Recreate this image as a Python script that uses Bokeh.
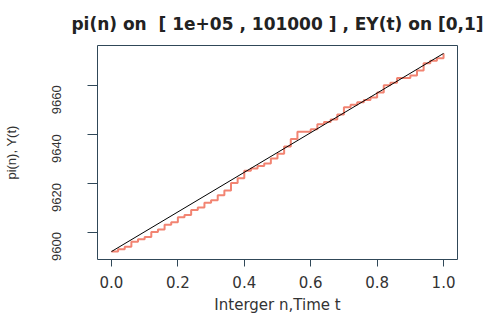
import math
from bokeh.plotting import figure
from bokeh.models import FixedTicker, Range1d
from bokeh.embed import file_html
from bokeh.resources import INLINE

# data
t_vals = [0.00, 0.02, 0.04, 0.06, 0.08, 0.10, 0.12, 0.14, 0.16, 0.18,
          0.20, 0.22, 0.24, 0.26, 0.28, 0.30, 0.32, 0.34, 0.36, 0.38,
          0.40, 0.42, 0.44, 0.46, 0.48, 0.50, 0.52, 0.54, 0.56, 0.58,
          0.60, 0.62, 0.64, 0.66, 0.68, 0.70, 0.72, 0.74, 0.76, 0.78,
          0.80, 0.82, 0.84, 0.86, 0.88, 0.90, 0.92, 0.94, 0.96, 0.98, 1.00]
pi_vals = [9592, 9593, 9594, 9596, 9597, 9598, 9600, 9601, 9603, 9604,
           9606, 9607, 9609, 9610, 9612, 9613, 9615, 9617, 9620, 9622,
           9625, 9626, 9627, 9628, 9630, 9632, 9635, 9638, 9641, 9641,
           9642, 9644, 9645, 9646, 9648, 9651, 9652, 9653, 9654, 9655,
           9657, 9660, 9661, 9663, 9663, 9664, 9666, 9669, 9670, 9671, 9673]
ey_t = [0.0, 1.0]
ey_vals = [9592, 9673]
x_ticks = [0.0, 0.2, 0.4, 0.6, 0.8, 1.0]
y_ticks = [9600, 9620, 9640, 9660]

p = figure(width=488, height=316, output_backend="svg", toolbar_location=None,
           x_range=Range1d(-0.042, 1.042), y_range=Range1d(9588.76, 9676.24),
           min_border_left=96, min_border_right=31, min_border_top=43, min_border_bottom=48)
p.background_fill_color = "white"
p.border_fill_color = "white"
p.grid.visible = False
p.outline_line_color = "#304858"
p.outline_line_width = 1

p.title.text = "pi(n) on \u00a0[ 1e+05 , 101000 ] , EY(t) on [0,1]"
p.title.align = "center"
p.title.offset = -5
p.title.text_font = "DejaVu Sans"
p.title.text_font_style = "bold"
p.title.text_font_size = "17px"
p.title.text_color = "#222222"
p.title.standoff = 23

p.step(t_vals, pi_vals, mode="after", line_color="#f28472", line_width=2)
p.line(ey_t, ey_vals, line_color="black", line_width=1)

xa = p.xaxis[0]
xa.ticker = FixedTicker(ticks=x_ticks)
xa.major_label_overrides = {0.0: "0.0", 0.2: "0.2", 0.4: "0.4", 0.6: "0.6", 0.8: "0.8", 1.0: "1.0"}
xa.axis_label = "Interger n,Time t"
xa.axis_line_color = None
xa.major_tick_line_color = "#304858"
xa.major_tick_out = 7
xa.major_tick_in = 0
xa.minor_tick_line_color = None
xa.major_label_text_font = "DejaVu Sans"
xa.major_label_text_font_size = "15px"
xa.major_label_text_color = "#333333"
xa.major_label_standoff = 9
xa.axis_label_text_font = "DejaVu Sans"
xa.axis_label_text_font_size = "15px"
xa.axis_label_text_font_style = "normal"
xa.axis_label_text_color = "#333333"
xa.axis_label_standoff = 5

ya = p.yaxis[0]
ya.ticker = FixedTicker(ticks=y_ticks)
ya.axis_label = "pi(n), Y(t)"
ya.axis_line_color = None
ya.major_tick_line_color = "#304858"
ya.major_tick_out = 10
ya.major_tick_in = 0
ya.minor_tick_line_color = None
ya.major_label_orientation = math.pi / 2
ya.major_label_text_font = "Liberation Sans"
ya.major_label_text_font_size = "13px"
ya.major_label_text_color = "#333333"
ya.major_label_standoff = 31
ya.axis_label_text_font = "Liberation Sans"
ya.axis_label_text_font_size = "13px"
ya.axis_label_text_font_style = "normal"
ya.axis_label_text_color = "#333333"
ya.axis_label_standoff = 26

open("out.html", "w").write(file_html(p, INLINE))
